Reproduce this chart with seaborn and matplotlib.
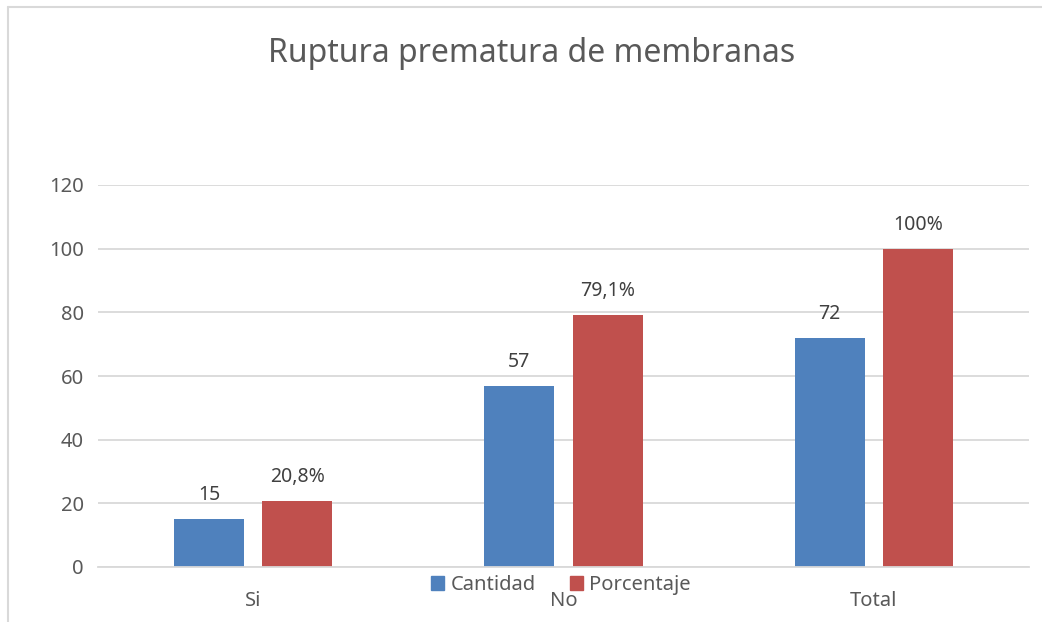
import matplotlib
matplotlib.use("Agg")
import matplotlib.pyplot as plt
import seaborn as sns
import pandas as pd
from matplotlib.lines import Line2D
from matplotlib.patches import Patch

categorias = ["Si", "No", "Total"]
cantidad = [15, 57, 72]
porcentaje = [20.8, 79.1, 100]
etiquetas_cantidad = ["15", "57", "72"]
etiquetas_porcentaje = ["20,8%", "79,1%", "100%"]
series = ["Cantidad", "Porcentaje"]
colores = ["#4F81BD", "#C0504D"]
titulo = "Ruptura prematura de membranas"
yticks = [0, 20, 40, 60, 80, 100, 120]

df = pd.DataFrame({
    "cat": categorias * 2,
    "serie": [series[0]] * 3 + [series[1]] * 3,
    "valor": cantidad + porcentaje,
})

sns.set_theme(style="white")
plt.rcParams["font.family"] = ["Noto Sans", "DejaVu Sans"]
txt = "#595959"
grid = "#D9D9D9"

fig = plt.figure(figsize=(10.42, 6.22), dpi=100)
ax = fig.add_axes([98/1042, 55/622, (1029-98)/1042, (567-185)/622])

sns.barplot(data=df, x="cat", y="valor", hue="serie", order=categorias,
            hue_order=series, palette=colores, width=0.57, gap=0.21,
            saturation=1, ax=ax, legend=False, linewidth=0, edgecolor="none")

for cont, labs in zip(ax.containers, [etiquetas_cantidad, etiquetas_porcentaje]):
    ax.bar_label(cont, labels=labs, padding=10, fontsize=14, color="#404040")

ax.set_ylim(0, 120)
ax.set_xlim(-0.5, 2.5)
ax.set_yticks(yticks)
ax.yaxis.grid(True, color=grid, linewidth=1.3)
ax.set_axisbelow(True)
for s in ["top", "right", "left"]:
    ax.spines[s].set_visible(False)
ax.spines["bottom"].set_color(grid)
ax.spines["bottom"].set_linewidth(1.3)
ax.tick_params(axis="both", length=0, labelsize=14.5, colors=txt, pad=10)
ax.tick_params(axis="x", pad=17)
ax.set_xlabel("")
ax.set_ylabel("")

fig.text(532/1042, 1 - 53/622, titulo, ha="center", va="center",
         fontsize=23, color=txt)

handles = [Patch(facecolor=c, edgecolor=c) for c in colores]
fig.legend(handles, series, loc="center", bbox_to_anchor=(561/1042, 1 - 585/622),
           ncol=2, frameon=False, fontsize=14.5, handlelength=0.65, handleheight=0.65,
           handletextpad=0.3, columnspacing=1.7, labelcolor=txt)

# chart border
fig.add_artist(Line2D([8/1042, 1], [1 - 7/622, 1 - 7/622], color=grid, lw=1.5,
                      transform=fig.transFigure))
fig.add_artist(Line2D([8/1042, 8/1042], [0, 1 - 7/622], color=grid, lw=1.5,
                      transform=fig.transFigure))

fig.savefig("out.png", dpi=100, facecolor="white")
